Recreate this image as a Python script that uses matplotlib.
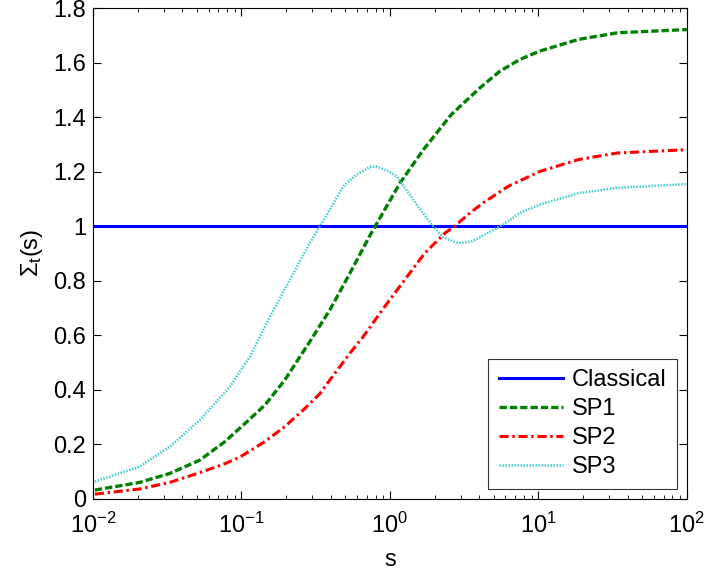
import matplotlib
matplotlib.use("Agg")
import matplotlib.pyplot as plt
from matplotlib.ticker import FormatStrFormatter, LogLocator, NullFormatter

plt.rcParams["font.family"] = ["Liberation Sans", "DejaVu Sans"]
plt.rcParams["mathtext.fontset"] = "custom"
plt.rcParams["mathtext.rm"] = "Liberation Sans"
plt.rcParams["mathtext.it"] = "Liberation Sans:italic"
plt.rcParams["mathtext.sf"] = "Liberation Sans"

# Data
s_classical = [0.01, 100]
classical = [1.0, 1.0]

s_sp1 = [0.0103, 0.0206, 0.0329, 0.0525, 0.0775, 0.106, 0.144, 0.196, 0.289,
         0.394, 0.538, 0.733, 1.17, 1.68, 2.6, 4.04, 5.5, 7.5, 10.2, 18.7,
         34, 100]
sp1 = [0.031, 0.059, 0.092, 0.141, 0.209, 0.276, 0.343, 0.435, 0.576,
       0.692, 0.827, 0.965, 1.158, 1.28, 1.41, 1.507, 1.568, 1.611, 1.642,
       1.685, 1.709, 1.721]

s_sp2 = [0.0103, 0.0206, 0.0329, 0.0525, 0.0776, 0.0976, 0.144, 0.196, 0.261,
         0.338, 0.394, 0.538, 0.661, 0.925, 1.26, 1.72, 2.35, 2.74, 3.46,
         4.25, 6.27, 10.2, 18.7, 34, 100]
sp2 = [0.016, 0.035, 0.059, 0.095, 0.128, 0.152, 0.209, 0.264, 0.325,
       0.385, 0.435, 0.533, 0.594, 0.705, 0.803, 0.901, 0.974, 1.0, 1.048,
       1.085, 1.146, 1.2, 1.244, 1.268, 1.28]

s_sp3 = [0.0103, 0.0206, 0.0329, 0.0525, 0.0837, 0.114, 0.156, 0.212, 0.289,
         0.338, 0.394, 0.485, 0.597, 0.733, 0.814, 1.0, 1.11, 1.26, 1.55,
         1.91, 2.29, 2.88, 3.55, 4.25, 5.79, 7.5, 10.2, 18.7, 34, 100]
sp3 = [0.062, 0.117, 0.19, 0.288, 0.41, 0.521, 0.668, 0.803, 0.9375, 1.0,
       1.06, 1.146, 1.188, 1.217, 1.219, 1.198, 1.182, 1.14, 1.072, 1.005,
       0.958, 0.937, 0.943, 0.965, 1.005, 1.048, 1.078, 1.121, 1.14, 1.154]

fig = plt.figure(figsize=(7.07, 5.73), dpi=100)
ax = fig.add_axes([0.1315, 0.130, 0.840, 0.856])

ax.plot(s_classical, classical, color="#0000ff", lw=2.2, label="Classical")
ax.plot(s_sp1, sp1, color="#008000", lw=2.4, ls=(0, (2.2, 0.9)), label="SP1")
ax.plot(s_sp2, sp2, color="#ff0000", lw=2.2, ls=(0, (3, 1.2, 0.8, 1.2)), label="SP2")
ax.plot(s_sp3, sp3, color="#3fcfcf", lw=1.8, ls=(0, (0.6, 0.6)), label="SP3")

ax.set_xscale("log")
ax.set_xlim(1e-2, 1e2)
ax.set_ylim(0, 1.8)
ax.set_yticks([0, 0.2, 0.4, 0.6, 0.8, 1.0, 1.2, 1.4, 1.6, 1.8])
ax.yaxis.set_major_formatter(FormatStrFormatter("%g"))
ax.xaxis.set_minor_locator(LogLocator(base=10, subs=range(2, 10)))
ax.xaxis.set_minor_formatter(NullFormatter())

ax.tick_params(which="both", direction="in", top=True, right=True, labelsize=17)
ax.tick_params(which="major", length=6, width=0.8)
ax.tick_params(which="minor", length=3, width=0.6)
ax.tick_params(axis="x", which="major", pad=10)
ax.tick_params(axis="y", which="major", pad=5)
for sp in ax.spines.values():
    sp.set_linewidth(0.8)

ax.set_xlabel("s", fontsize=17, labelpad=8)
ax.set_ylabel(r"$\Sigma_{\mathrm{t}}$(s)", fontsize=17, labelpad=6)

leg = ax.legend(loc="lower right", fontsize=17, frameon=True, fancybox=False,
                edgecolor="black", handlelength=2.7, handletextpad=0.4,
                borderpad=0.45, labelspacing=0.3, borderaxespad=0.4)
leg.get_frame().set_linewidth(0.8)

fig.savefig("out.png", dpi=100)
